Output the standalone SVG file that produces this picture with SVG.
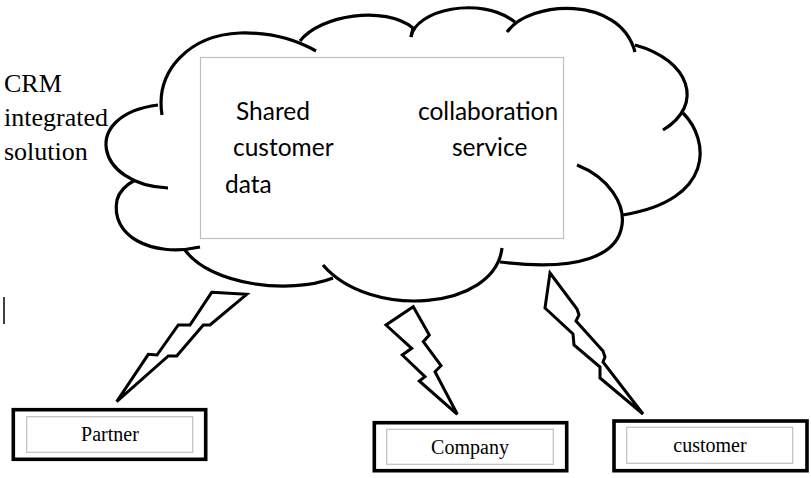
<svg xmlns="http://www.w3.org/2000/svg" width="811" height="478" viewBox="0 0 811 478">
<style>
.arc{fill:none;stroke:#000;stroke-width:3.2;stroke-linecap:butt}
.bolt{fill:#fff;stroke:#000;stroke-width:3;stroke-linejoin:miter}
.outer{fill:#fff;stroke:#000;stroke-width:3.6}
.inner{fill:none;stroke:#bfbfbf;stroke-width:1.2}
.sans{font-family:Lato,"Open Sans","Liberation Sans",sans-serif;font-size:24.5px;fill:#000}
.serif{font-family:"Liberation Serif","Times New Roman",serif;fill:#000}
</style>
<rect width="811" height="478" fill="#fff"/>
<g id="cloud">
<path class="arc" d="M162,115 C155,70 190,35 240,33 C275,32 300,42 316,51"/>
<path class="arc" d="M300,41 C320,15 385,5 413,28 L411,37"/>
<path class="arc" d="M411,37 C415,10 480,-5 515,22"/>
<path class="arc" d="M507,32 C530,0 620,-5 635,52"/>
<path class="arc" d="M635,45 C690,60 705,105 663,130"/>
<path class="arc" d="M683,113 C710,140 715,200 623,215"/>
<path class="arc" d="M577,165 C610,178 625,205 622,225 C618,255 580,272 500,262"/>
<path class="arc" d="M502,248 C495,310 370,320 323,265"/>
<path class="arc" d="M333,278 C290,295 210,285 185,250"/>
<path class="arc" d="M200,247 C150,258 110,235 117,200 C119,192 126,185 135,180"/>
<path class="arc" d="M168,188 C95,185 80,115 158,105"/>
</g>
<g id="core">
<rect x="200.5" y="57.5" width="363" height="181" fill="#fff" stroke="#bfbfbf" stroke-width="1.2"/>
<text class="sans" x="236" y="120">Shared</text>
<text class="sans" x="233" y="156">customer</text>
<text class="sans" x="225" y="193">data</text>
<text class="sans" x="418" y="120">collaboration</text>
<text class="sans" x="452" y="156">service</text>
</g>
<g id="label">
<text class="serif" font-size="26" x="4" y="92">CRM</text>
<text class="serif" font-size="26" x="4" y="126">integrated</text>
<text class="serif" font-size="26" x="4" y="160">solution</text>
</g>
<line x1="4" y1="297" x2="4" y2="324" stroke="#000" stroke-width="1.5"/>
<g id="connectors">
<polygon class="bolt" points="211.7,292.3 246.7,294.3 210,325 203.3,325 176.7,356 168.3,356 116.7,401.7 148.3,354.3 157,355 178.3,325 190,325"/>
<polygon class="bolt" points="413.3,306.7 429.3,335 423.3,341.7 441,365.7 435,371.7 457.3,414.3 419.3,381 425,376.7 402.3,355 411.7,348.3 386,325"/>
<polygon class="bolt" points="550,273 577,309 579,315 576,321 603,351 605,357 603,362 643,414 600,378 600,367 574,345 573,334 545,308"/>
</g>
<g id="partner">
<rect class="outer" x="13.3" y="409.7" width="192.4" height="49.6"/>
<rect class="inner" x="26.7" y="416.7" width="166" height="35.6"/>
<text class="serif" font-size="20" x="110" y="441" text-anchor="middle">Partner</text>
</g>
<g id="company">
<rect class="outer" x="374.3" y="422.7" width="192.4" height="48"/>
<rect class="inner" x="386.7" y="429.3" width="166.6" height="35"/>
<text class="serif" font-size="20" x="470" y="454" text-anchor="middle">Company</text>
</g>
<g id="customer">
<rect class="outer" x="614" y="421" width="193" height="49.7"/>
<rect class="inner" x="626.7" y="427.3" width="166" height="36"/>
<text class="serif" font-size="20" x="710" y="452" text-anchor="middle">customer</text>
</g>
</svg>
